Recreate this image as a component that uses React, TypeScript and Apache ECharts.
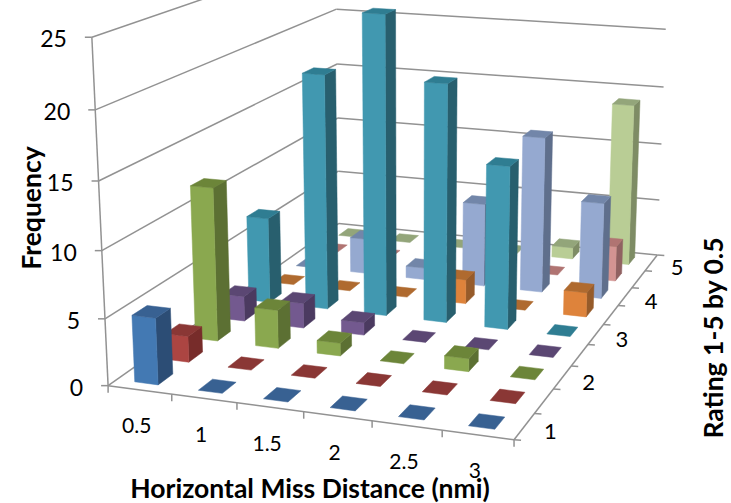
import React, { useEffect, useRef } from "react";
import * as echarts from "echarts";

const missDistances = ["0.5", "1", "1.5", "2", "2.5", "3"];
const ratingTicks = ["1", "", "2", "", "3", "", "4", "", "5"];
const frequencyTicks = [0, 5, 10, 15, 20, 25];
const rating1 = [5, 0, 0, 0, 0, 0];
const rating1_5 = [2, 0, 0, 0, 0, 0];
const rating2 = [12, 3, 1, 0, 1, 0];
const rating2_5 = [2, 2, 1, 0, 0, 0];
const rating3 = [7, 19, 24, 19, 13, 0];
const rating3_5 = [0, 0, 0, 2, 0, 2];
const rating4 = [0, 3, 1, 7, 13, 8];
const rating4_5 = [0, 0, 0, 0, 0, 3];
const rating5 = [0, 0, 0, 0, 1, 14];
const ratings = [rating1, rating1_5, rating2, rating2_5, rating3, rating3_5, rating4, rating4_5, rating5];

const frontColors = ["#4379B3", "#AC4542", "#8AA84F", "#73598F", "#4198B0", "#DE833B", "#95A9D0", "#D39492", "#B9CD95"];
const sideColors = ["#2C4D75", "#772C2A", "#5C7033", "#4B3A60", "#285F6E", "#965B2A", "#5F6F8C", "#906262", "#7E8C65"];
const topColors = ["#386192", "#8A3735", "#6C8539", "#5B4773", "#2F7D92", "#AF6A2F", "#7286A9", "#B07472", "#93A57A"];

const LINE = "#929292";
const FONT = "Lato, 'Open Sans', sans-serif";
const BAR_W = 0.37;
const BAR_D = 0.47;
const BAR_C = 0.47;

// Camera calibration: [column, row, value, screen x, screen y]
const calibration = [
  [0, 0, 0, 107.7, 385], [0, 0, 5, 103.5, 318], [0, 0, 10, 101.5, 250], [0, 0, 15, 99, 182], [0, 0, 20, 95, 110], [0, 0, 25, 93, 38],
  [6, 0, 0, 515, 440],
  [0, 9, 0, 340, 224], [0, 9, 5, 339, 172], [0, 9, 10, 338, 118], [0, 9, 15, 337, 63], [0, 9, 20, 335, 9],
  [6, 9, 0, 656.7, 255], [6, 9, 5, 659, 200], [6, 9, 10, 661, 144], [6, 9, 15, 663, 87], [6, 9, 20, 667, 29],
];

function solve(A: number[][], b: number[]) {
  const n = b.length;
  const M = A.map((r, i) => [...r, b[i]]);
  for (let c = 0; c < n; c++) {
    let p = c;
    for (let r = c + 1; r < n; r++) if (Math.abs(M[r][c]) > Math.abs(M[p][c])) p = r;
    [M[c], M[p]] = [M[p], M[c]];
    for (let r = 0; r < n; r++) {
      if (r === c) continue;
      const f = M[r][c] / M[c][c];
      for (let k = c; k <= n; k++) M[r][k] -= f * M[c][k];
    }
  }
  return M.map((r, i) => r[n] / r[i]);
}

function fitCamera() {
  const rows: number[][] = [];
  const rhs: number[] = [];
  for (const [c, r, z, u, v] of calibration) {
    const X = c / 6, Y = r / 9, Z = z / 25;
    rows.push([X, Y, Z, 1, 0, 0, 0, 0, -u * X, -u * Y, -u * Z]); rhs.push(u);
    rows.push([0, 0, 0, 0, X, Y, Z, 1, -v * X, -v * Y, -v * Z]); rhs.push(v);
  }
  const n = 11;
  const A = Array.from({ length: n }, (_, i) => Array.from({ length: n }, (_, j) => rows.reduce((s, w) => s + w[i] * w[j], 0)));
  const b = Array.from({ length: n }, (_, i) => rows.reduce((s, w, k) => s + w[i] * rhs[k], 0));
  return solve(A, b);
}
const cam = fitCamera();

function project(c: number, r: number, z: number): number[] {
  const X = c / 6, Y = r / 9, Z = z / 25;
  const w = cam[8] * X + cam[9] * Y + cam[10] * Z + 1;
  return [(cam[0] * X + cam[1] * Y + cam[2] * Z + cam[3]) / w, (cam[4] * X + cam[5] * Y + cam[6] * Z + cam[7]) / w];
}

function seg(a: number[], b: number[], width = 1.5) {
  return {
    type: "line",
    shape: { x1: a[0], y1: a[1], x2: b[0], y2: b[1] },
    style: { stroke: LINE, lineWidth: width, fill: "none" },
    silent: true,
  };
}

function frameElements() {
  const els: any[] = [];
  for (const z of frequencyTicks) {
    const a = project(0, 0, z), b = project(0, 9, z), c = project(6, 9, z);
    els.push(seg(a, b), seg(b, c), seg([a[0] - 7, a[1]], a));
  }
  els.push(seg(project(0, 0, 0), project(0, 0, 25)));
  els.push(seg(project(0, 0, 0), project(6, 0, 0)));
  els.push(seg(project(6, 0, 0), project(6, 9, 0)));
  for (let c = 0; c <= missDistances.length; c++) {
    const p = project(c, 0, 0);
    els.push(seg(p, [p[0], p[1] + 7]));
  }
  for (let r = 0; r <= ratingTicks.length; r++) {
    const p = project(6, r, 0);
    els.push(seg(p, [p[0] + 7, p[1] + 0.5]));
  }
  return els;
}

function txt(x: number, y: number, text: string, fontSize: number, bold = false, rotation = 0, align = "center") {
  return {
    type: "text",
    x, y, rotation,
    silent: true,
    style: { text, fontSize, fontFamily: FONT, fontWeight: bold ? 700 : 400, fill: "#000", align, verticalAlign: "middle" },
  };
}

function labelElements() {
  const els: any[] = [];
  frequencyTicks.forEach((z) => {
    const p = project(0, 0, z);
    els.push(txt(p[0] - 25, p[1] + 1, String(z), 23, false, 0, "right"));
  });
  missDistances.forEach((t, c) => {
    const p = project(c + 0.5, 0, 0);
    els.push(txt(p[0] - 3, p[1] + 35, t, 21));
  });
  ratingTicks.forEach((t, r) => {
    if (!t) return;
    const p = project(6, r + 0.5, 0);
    els.push(txt(p[0] + 26, p[1] + 4, t, 22));
  });
  els.push(txt(31, 208, "Frequency", 26.5, true, Math.PI / 2));
  els.push(txt(310, 488, "Horizontal Miss Distance (nmi)", 26.5, true));
  els.push(txt(713, 338, "Rating 1-5 by 0.5", 26.5, true, Math.PI / 2));
  return els;
}

const barData: number[][] = [];
for (let r = ratings.length - 1; r >= 0; r--) {
  ratings[r].forEach((v, c) => barData.push([c, r, v]));
}

function renderBar(_: any, api: any) {
  const c = api.value(0), r = api.value(1), v = api.value(2);
  const x0 = c + BAR_C - BAR_W / 2, x1 = c + BAR_C + BAR_W / 2;
  const y0 = r + 0.5 - BAR_D / 2, y1 = r + 0.5 + BAR_D / 2;
  const face = (pts: number[][], fill: string) => ({
    type: "polygon",
    shape: { points: pts.map((p) => project(p[0], p[1], p[2])) },
    style: { fill, stroke: fill, lineWidth: 0.5 },
    silent: true,
  });
  const children: any[] = [];
  if (v > 0) {
    children.push(face([[x1, y0, 0], [x1, y1, 0], [x1, y1, v], [x1, y0, v]], sideColors[r]));
    children.push(face([[x0, y0, 0], [x1, y0, 0], [x1, y0, v], [x0, y0, v]], frontColors[r]));
  }
  children.push(face([[x0, y0, v], [x1, y0, v], [x1, y1, v], [x0, y1, v]], topColors[r]));
  return { type: "group", children };
}

export default function App() {
  const ref = useRef<HTMLDivElement>(null);
  useEffect(() => {
    document.body.style.margin = "0";
    const chart = echarts.init(ref.current!, null, { renderer: "svg" });
    chart.setOption({
      animation: false,
      backgroundColor: "#ffffff",
      series: [
        {
          type: "custom",
          coordinateSystem: "none",
          silent: true,
          z: 1,
          data: [[0]],
          renderItem: () => ({ type: "group", children: frameElements() }),
        },
        {
          type: "custom",
          coordinateSystem: "none",
          silent: true,
          z: 2,
          data: barData,
          renderItem: renderBar,
        },
        {
          type: "custom",
          coordinateSystem: "none",
          silent: true,
          z: 3,
          data: [[0]],
          renderItem: () => ({ type: "group", children: labelElements() }),
        },
      ],
    });
    return () => chart.dispose();
  }, []);
  return <div ref={ref} style={{ width: 731, height: 503 }} />;
}
